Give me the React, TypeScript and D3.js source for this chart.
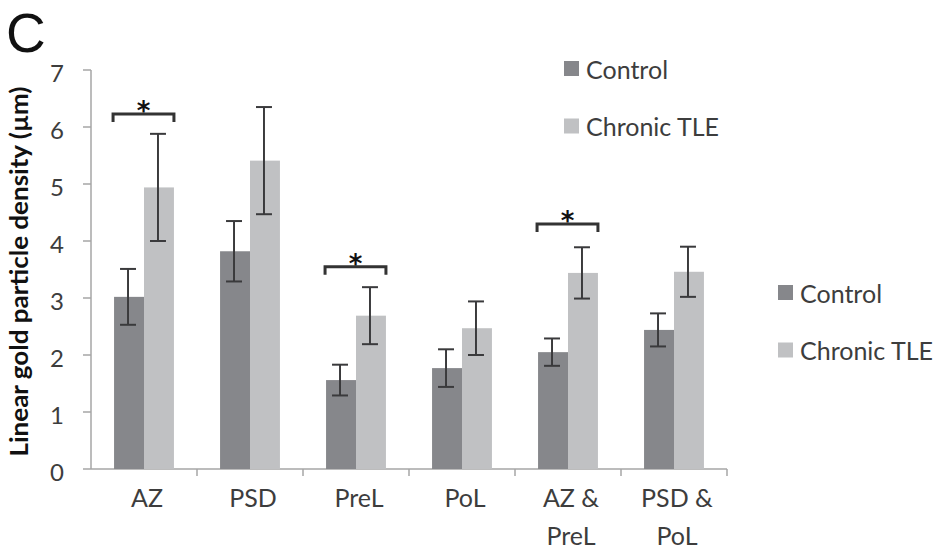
import React from "react";
import * as d3 from "d3";

const categories = ["AZ", "PSD", "PreL", "PoL", "AZ & PreL", "PSD & PoL"];
const categoryLines = [["AZ"], ["PSD"], ["PreL"], ["PoL"], ["AZ &", "PreL"], ["PSD &", "PoL"]];
const seriesNames = ["Control", "Chronic TLE"];
const controlValues = [3.02, 3.82, 1.56, 1.77, 2.05, 2.44];
const controlErrors = [0.49, 0.53, 0.27, 0.33, 0.24, 0.29];
const tleValues = [4.94, 5.41, 2.69, 2.47, 3.44, 3.46];
const tleErrors = [0.94, 0.94, 0.5, 0.47, 0.45, 0.44];
const yTicks = [0, 1, 2, 3, 4, 5, 6, 7];
// significance brackets: category index, bracket level
const significance = [
  { cat: 0, level: 6.23 },
  { cat: 2, level: 3.55 },
  { cat: 4, level: 4.3 },
];

const colors = ["#86878b", "#c0c1c3"];
const font = "Lato, 'Open Sans', sans-serif";
const textColor = "#3d3d3d";

export default function App() {
  const width = 936;
  const height = 551;
  const left = 91;
  const right = 727;
  const top = 70;
  const bottom = 469;

  const x = d3.scaleBand<string>().domain(categories).range([left, right]).paddingInner(0).paddingOuter(0);
  const inner = d3.scaleBand<string>().domain(seriesNames).range([0, x.bandwidth()]).paddingOuter(0.77).paddingInner(0);
  const y = d3.scaleLinear().domain([0, 7]).range([bottom, top]);

  const series = [
    { name: seriesNames[0], values: controlValues, errors: controlErrors },
    { name: seriesNames[1], values: tleValues, errors: tleErrors },
  ];

  return (
    <svg width={width} height={height} style={{ position: "absolute", left: 0, top: 0 }}>
      <rect width={width} height={height} fill="#fff" />
      <text x={6} y={52} fontFamily="'Liberation Sans', Arial, sans-serif" fontSize={55} fill="#111">C</text>

      {/* y axis */}
      <line x1={left} x2={left} y1={top} y2={bottom} stroke="#a6a6a6" strokeWidth={1.5} />
      {yTicks.map((t) => (
        <g key={t}>
          <line x1={left - 8} x2={left} y1={y(t)} y2={y(t)} stroke="#a6a6a6" strokeWidth={1.5} />
          <text x={64} y={y(t)} dy="0.5em" textAnchor="end" fontFamily={font} fontSize={24} fill={textColor}>{t}</text>
        </g>
      ))}
      <text
        transform={`translate(28,${(top + bottom) / 2 + 2}) rotate(-90)`}
        textAnchor="middle"
        fontFamily={font}
        fontWeight="bold"
        fontSize={25}
        textLength={370}
        lengthAdjust="spacingAndGlyphs"
        fill="#111"
      >
        Linear gold particle density (µm)
      </text>

      {/* x axis */}
      <line x1={left} x2={right} y1={bottom} y2={bottom} stroke="#a6a6a6" strokeWidth={1.5} />
      {categories.map((c) => (
        <line key={c} x1={(x(c) as number) + x.bandwidth()} x2={(x(c) as number) + x.bandwidth()} y1={bottom} y2={bottom + 7} stroke="#a6a6a6" strokeWidth={1.5} />
      ))}
      {categories.map((c, i) => (
        <text key={c} x={(x(c) as number) + x.bandwidth() / 2 + 3} y={507} textAnchor="middle" fontFamily={font} fontSize={25} fill={textColor}>
          {categoryLines[i].map((l, j) => (
            <tspan key={j} x={(x(c) as number) + x.bandwidth() / 2 + 3} dy={j === 0 ? 0 : 38}>{l}</tspan>
          ))}
        </text>
      ))}

      {/* bars */}
      {series.map((s, si) =>
        categories.map((c, i) => {
          const bx = (x(c) as number) + (inner(s.name) as number);
          return (
            <rect key={`${si}-${c}`} x={bx} y={y(s.values[i])} width={inner.bandwidth()} height={bottom - y(s.values[i])} fill={colors[si]} />
          );
        })
      )}

      {/* error bars */}
      {series.map((s, si) =>
        categories.map((c, i) => {
          const cx = (x(c) as number) + (inner(s.name) as number) + inner.bandwidth() / 2 - 1;
          const hi = y(s.values[i] + s.errors[i]);
          const lo = y(s.values[i] - s.errors[i]);
          return (
            <g key={`e${si}-${c}`} stroke="#3a3a3c" strokeWidth={2}>
              <line x1={cx} x2={cx} y1={hi} y2={lo} />
              <line x1={cx - 8} x2={cx + 8} y1={hi} y2={hi} />
              <line x1={cx - 8} x2={cx + 8} y1={lo} y2={lo} />
            </g>
          );
        })
      )}

      {/* significance */}
      {significance.map((sg) => {
        const c = categories[sg.cat];
        const x0 = (x(c) as number) + (inner(seriesNames[0]) as number) - 1;
        const x1 = (x(c) as number) + (inner(seriesNames[1]) as number) + inner.bandwidth();
        const yy = y(sg.level);
        return (
          <g key={c}>
            <path d={`M${x0},${yy + 8}V${yy}H${x1}V${yy + 8}`} fill="none" stroke="#333" strokeWidth={3} />
            <text x={(x0 + x1) / 2} y={yy + 6} textAnchor="middle" fontFamily="'DejaVu Sans', sans-serif" fontWeight="bold" fontSize={26} fill="#111">*</text>
          </g>
        );
      })}

      {/* legends */}
      {[{ lx: 564, ly: 61 }, { lx: 778, ly: 285 }].map((lg, li) => (
        <g key={li}>
          {seriesNames.map((n, k) => (
            <g key={n} transform={`translate(${lg.lx},${lg.ly + k * 57.5})`}>
              <rect width={15} height={15} fill={colors[k]} />
              <text x={22} y={8} dy="0.38em" fontFamily={font} fontSize={25} fill={textColor}>{n}</text>
            </g>
          ))}
        </g>
      ))}
    </svg>
  );
}
